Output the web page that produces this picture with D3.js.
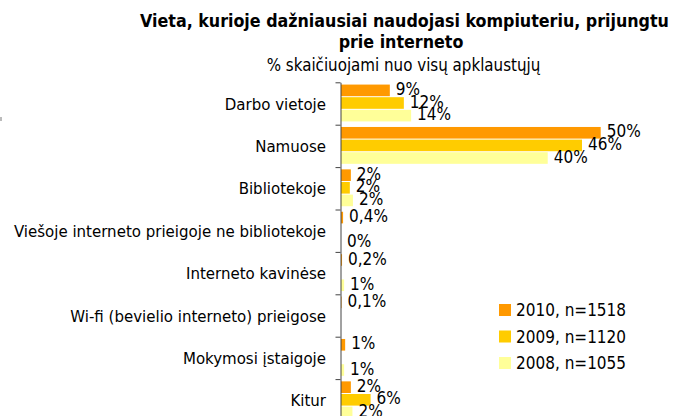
<!DOCTYPE html>
<html>
<head>
<meta charset="utf-8">
<script src="https://cdn.jsdelivr.net/npm/d3@7"></script>
<style>
  body { margin: 0; background: #fff; }
  svg { display: block; font-family: "DejaVu Sans Condensed", "DejaVu Sans", sans-serif; }
</style>
</head>
<body>
<svg width="676" height="416"></svg>
<script>
const categories = [
  "Darbo vietoje",
  "Namuose",
  "Bibliotekoje",
  "Viešoje interneto prieigoje ne bibliotekoje",
  "Interneto kavinėse",
  "Wi-fi (bevielio interneto) prieigose",
  "Mokymosi įstaigoje",
  "Kitur"
];
const seriesNames = ["2010, n=1518", "2009, n=1120", "2008, n=1055"];
const values2010 = [9.4, 50, 1.9, 0.4, 0.2, 0.1, 0.8, 1.9];
const values2009 = [12.1, 46.4, 1.7, null, null, null, null, 5.7];
const values2008 = [13.5, 39.8, 2.3, 0, 0.6, null, 0.6, 2.2];
const colors = ["#ff9900", "#ffcc00", "#ffff99"];

const svg = d3.select("svg");
const allValues = [values2010, values2009, values2008];

const x = d3.scaleLinear().domain([0, 50]).range([341, 600.7]);
const y = d3.scaleBand().domain(categories).range([82.3, 421.5]);
const yInner = d3.scaleBand().domain(seriesNames).range([0, y.bandwidth()]).paddingOuter(0.18);
const yEdge = d3.scaleLinear().domain([0, categories.length]).range(y.range());

const fmt = v => {
  if (v === 0) return "0%";
  if (v < 0.5) return String(v).replace(".", ",") + "%";
  return Math.round(v) + "%";
};

// titulas
svg.append("text")
  .attr("x", 404.5).attr("y", 27)
  .attr("text-anchor", "middle")
  .attr("font-weight", "bold")
  .attr("font-size", "17.7px")
  .text("Vieta, kurioje dažniausiai naudojasi kompiuteriu, prijungtu");
svg.append("text")
  .attr("x", 401).attr("y", 48)
  .attr("text-anchor", "middle")
  .attr("font-weight", "bold")
  .attr("font-size", "17.7px")
  .text("prie interneto");
svg.append("text")
  .attr("x", 403.5).attr("y", 71)
  .attr("text-anchor", "middle")
  .attr("font-size", "16.8px")
  .text("% skaičiuojami nuo visų apklaustųjų");

// stulpeliai
const rows = [];
allValues.forEach((vals, s) => {
  vals.forEach((v, i) => {
    if (v !== null) rows.push({cat: categories[i], series: seriesNames[s], s, v});
  });
});

svg.append("g")
  .selectAll("rect")
  .data(rows)
  .enter().append("rect")
    .attr("x", x(0))
    .attr("y", d => y(d.cat) + yInner(d.series))
    .attr("width", d => x(d.v) - x(0))
    .attr("height", yInner.bandwidth() - 1)
    .attr("fill", d => colors[d.s]);

svg.append("g")
  .selectAll("text")
  .data(rows)
  .enter().append("text")
    .attr("x", d => x(d.v) + 6)
    .attr("y", d => y(d.cat) + yInner(d.series) + yInner.bandwidth() / 2 - 2)
    .attr("dy", "0.36em")
    .attr("font-size", "17px")
    .attr("fill", "#000")
    .text(d => fmt(d.v));

// ašis
const axis = svg.append("g")
  .attr("transform", `translate(${x(0) - 0.5},0)`)
  .call(d3.axisLeft(yEdge).tickValues(d3.range(0, categories.length + 1)).tickSize(5).tickSizeOuter(0).tickFormat(""));
axis.selectAll("line, path").attr("stroke", "#444");

svg.append("g")
  .selectAll("text")
  .data(categories)
  .enter().append("text")
    .attr("x", 326)
    .attr("y", d => y(d) + y.bandwidth() / 2)
    .attr("dy", "0.36em")
    .attr("text-anchor", "end")
    .attr("font-size", "16.7px")
    .text(d => d);

// legenda
const legend = svg.append("g")
  .selectAll("g")
  .data(seriesNames)
  .enter().append("g")
    .attr("transform", (d, i) => `translate(499,${304 + i * 26.5})`);
legend.append("rect")
  .attr("width", 12).attr("height", 12)
  .attr("fill", (d, i) => colors[i]);
legend.append("text")
  .attr("x", 17).attr("y", 6)
  .attr("dy", "0.36em")
  .attr("font-size", "17px")
  .text(d => d);

// mažas žymeklis kairėje
svg.append("rect")
  .attr("x", 0).attr("y", 117).attr("width", 2).attr("height", 4)
  .attr("fill", "#bbb");
</script>
</body>
</html>
